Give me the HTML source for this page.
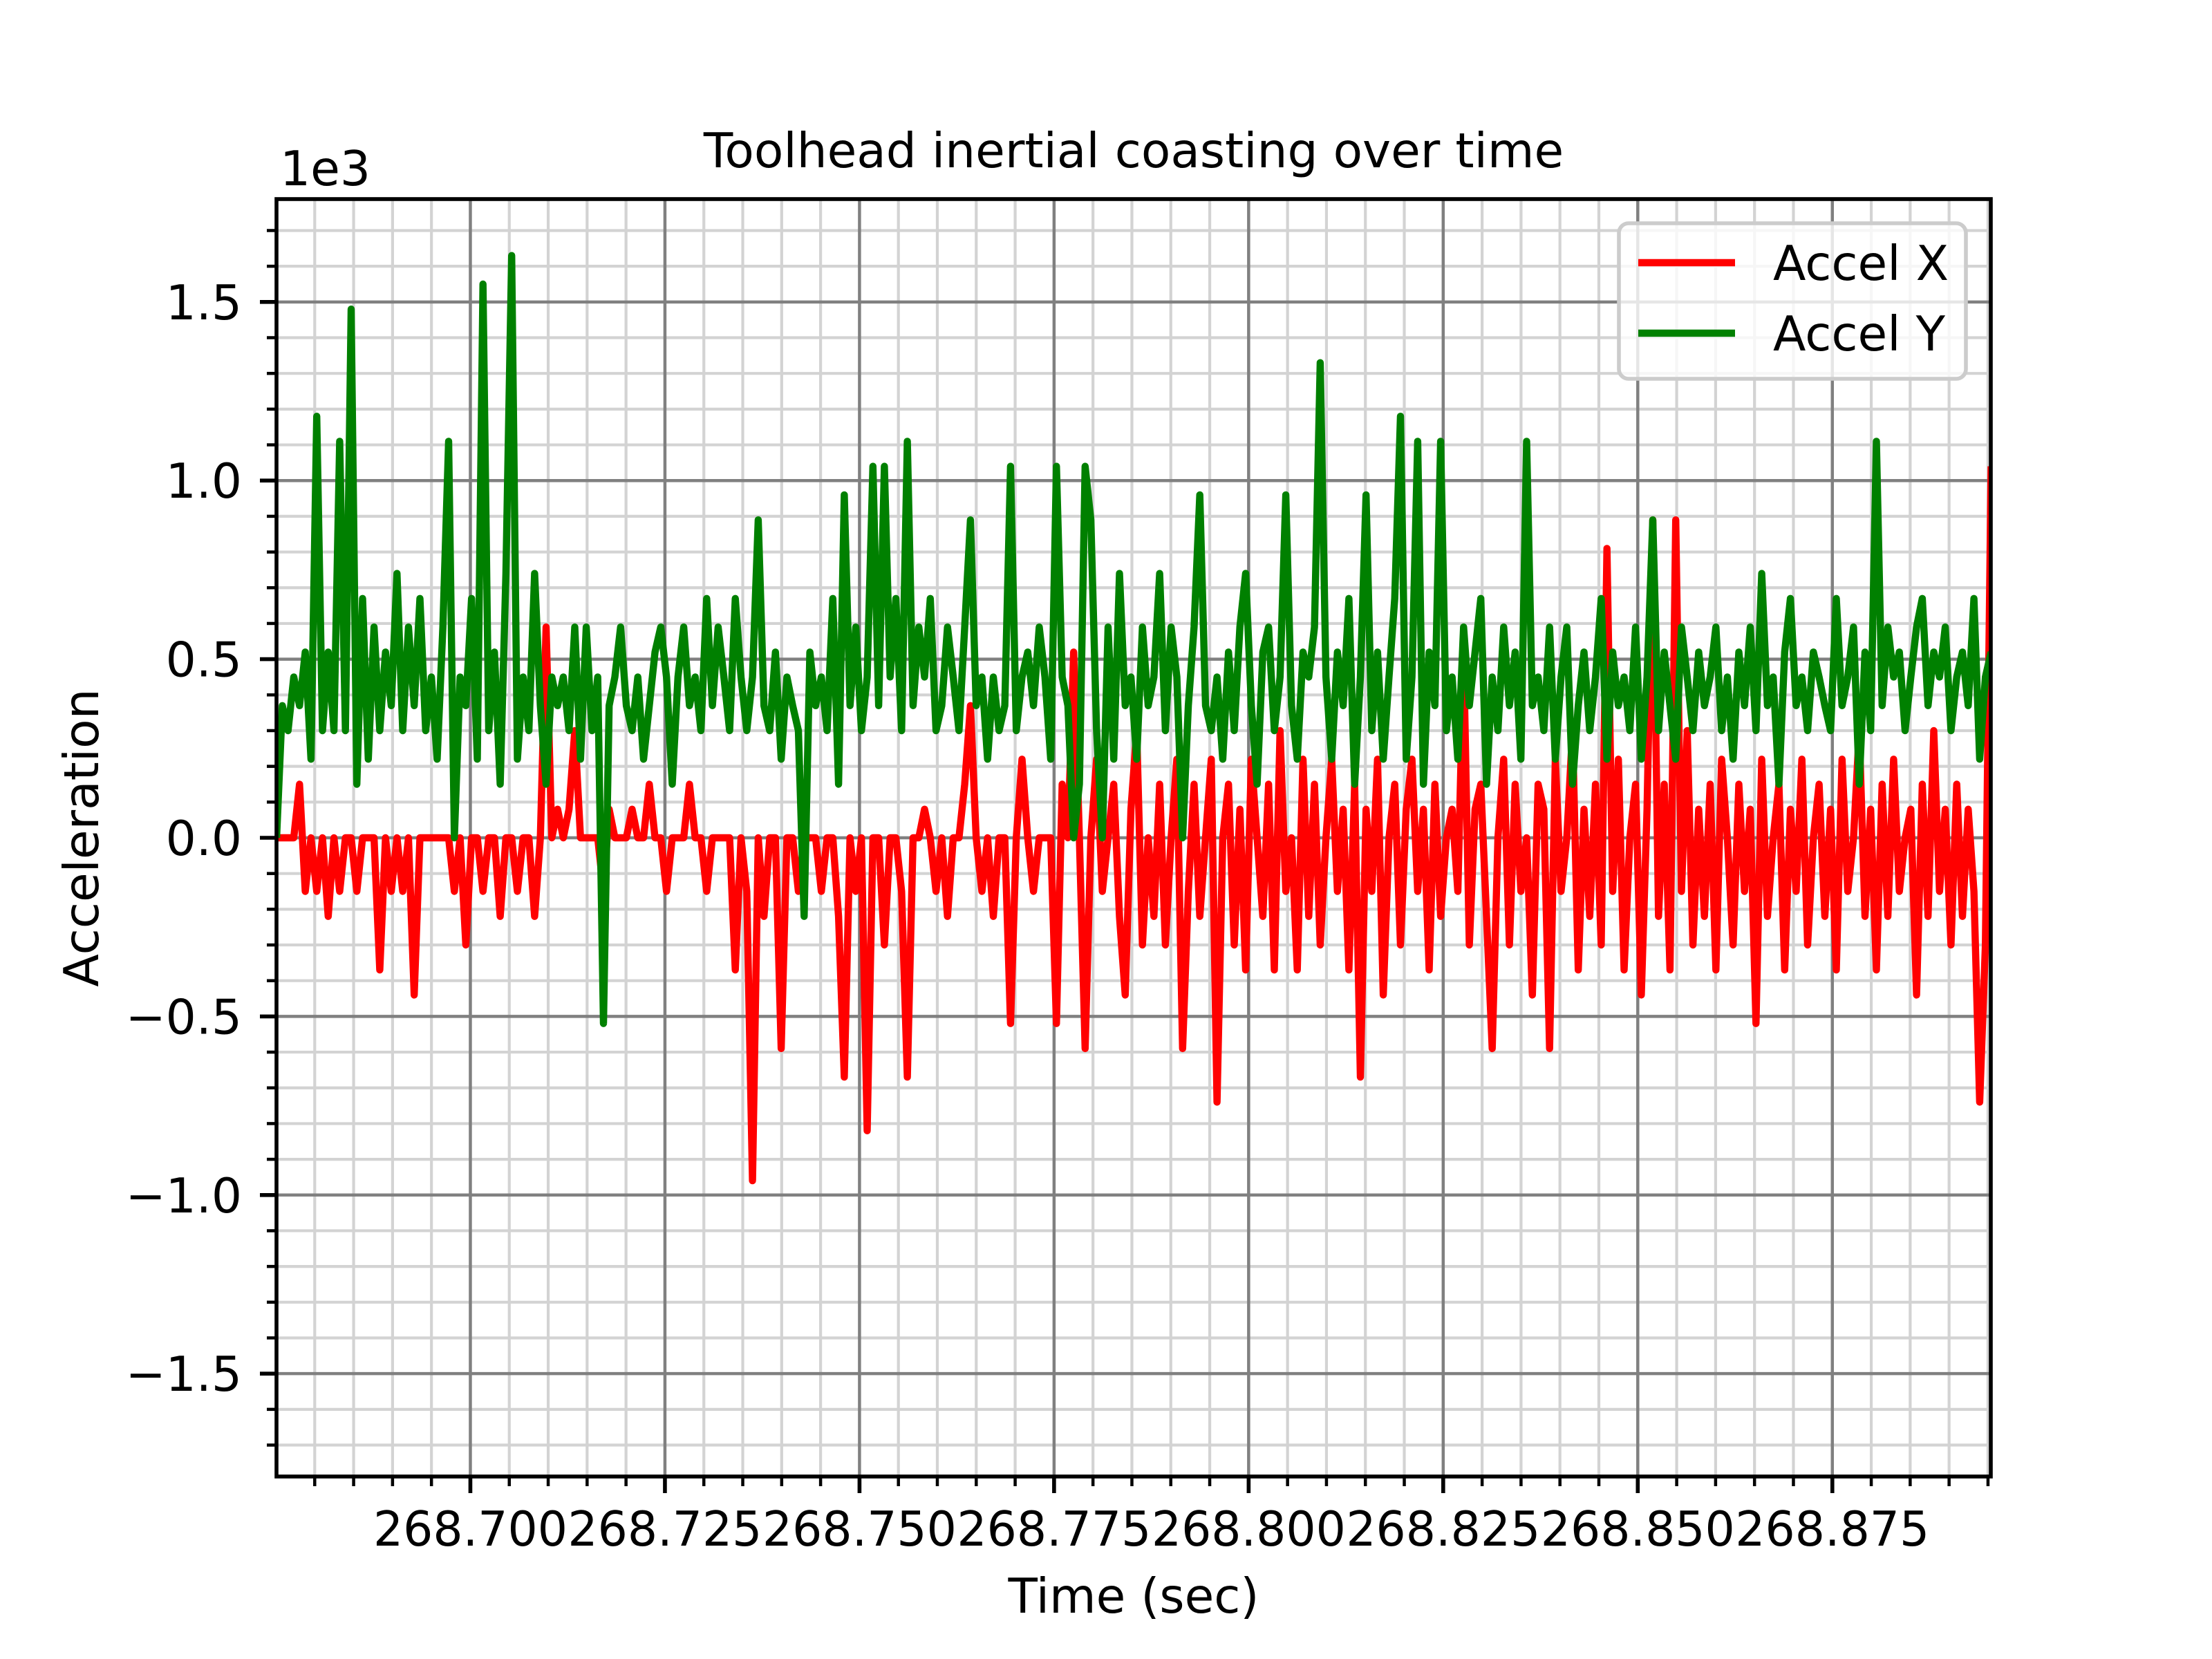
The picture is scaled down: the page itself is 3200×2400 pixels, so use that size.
<!DOCTYPE html>
<html><head><meta charset="utf-8"><style>
html,body{margin:0;padding:0;background:#fff;}
svg{display:block;}
text{font-family:"DejaVu Sans","Liberation Sans",sans-serif;fill:#000;}
</style></head><body>
<svg id="chart" width="3200" height="2400" viewBox="0 0 3200 2400" xmlns="http://www.w3.org/2000/svg">
<rect x="0" y="0" width="3200" height="2400" fill="#fff"/>
<defs><clipPath id="clip"><rect x="400" y="288" width="2480" height="1848"/></clipPath></defs>
<g id="grid"></g>
<g id="series" clip-path="url(#clip)"></g>
<rect x="400" y="288" width="2480" height="1848" fill="none" stroke="#000" stroke-width="5.6"/>
<g id="ticks"></g>
<text x="1640" y="242" font-size="69.4" text-anchor="middle">Toolhead inertial coasting over time</text>
<text x="405" y="268" font-size="69.4">1e3</text>
<text x="1640" y="2333" font-size="69.4" text-anchor="middle">Time (sec)</text>
<text x="142" y="1212" font-size="69.4" text-anchor="middle" transform="rotate(-90 142 1212)">Acceleration</text>
<g>
<rect x="2342" y="323" width="502" height="225" rx="14" fill="#fff" fill-opacity="0.8" stroke="#cccccc" stroke-width="5.6"/>
<line x1="2370" y1="380" x2="2510" y2="380" stroke="#ff0000" stroke-width="10.4"/>
<text x="2565" y="405" font-size="69.4">Accel X</text>
<line x1="2370" y1="482" x2="2510" y2="482" stroke="#008000" stroke-width="10.4"/>
<text x="2565" y="507" font-size="69.4">Accel Y</text>
</g>
</svg>
<script>
const tStart = 268.6751;
const tEnd = 268.8954;
const xTickLabels = ["268.700","268.725","268.750","268.775","268.800","268.825","268.850","268.875"];
const yTickLabels = ["\u22121.5","\u22121.0","\u22120.5","0.0","0.5","1.0","1.5"];
const accelX = [
0,0,0,0,0.15,-0.15,0,-0.15,0,-0.22,0,-0.15,0,0,-0.15,0,0,0,-0.37,0,
-0.15,0,-0.15,0,-0.44,0,0,0,0,0,0,-0.15,0,-0.30,0,0,-0.15,0,0,-0.22,
0,0,-0.15,0,0,-0.22,0,0.59,0,0.08,0,0.08,0.30,0,0,0,0,-0.15,0.08,0,
0,0,0.08,0,0,0.15,0,0,-0.15,0,0,0,0.15,0,0,-0.15,0,0,0,0,
-0.37,0,-0.15,-0.96,0,-0.22,0,0,-0.59,0,0,-0.15,0,0,0,-0.15,0,0,-0.22,-0.67,
0,-0.15,0,-0.82,0,0,-0.30,0,0,-0.15,-0.67,0,0,0.08,0,-0.15,0,-0.22,0,0,
0.15,0.37,0,-0.15,0,-0.22,0,0,-0.52,0,0.22,0,-0.15,0,0,0,-0.52,0.15,0,0.52,
0,-0.59,0,0.22,-0.15,0,0.15,-0.22,-0.44,0.08,0.30,-0.30,0,-0.22,0.15,-0.30,0,0.22,-0.59,-0.15,
0.15,-0.22,0,0.22,-0.74,0,0.15,-0.30,0.08,-0.37,0.22,0,-0.22,0.15,-0.37,0.30,-0.15,0,-0.37,0.22,
-0.22,0.15,-0.30,0,0.22,-0.15,0.08,-0.37,0.15,-0.67,0.08,-0.15,0.22,-0.44,0,0.15,-0.30,0.08,0.22,-0.15,
0.08,-0.37,0.15,-0.22,0,0.08,-0.15,0.52,-0.30,0.08,0.15,-0.22,-0.59,0,0.22,-0.30,0.15,-0.15,0,-0.44,
0.15,0.08,-0.59,0.22,-0.15,0,0.30,-0.37,0.08,-0.22,0.15,-0.30,0.81,-0.15,0.22,-0.37,0,0.15,-0.44,0.08,
0.89,-0.22,0.15,-0.37,0.89,-0.15,0.30,-0.30,0.08,-0.22,0.15,-0.37,0.22,0,-0.30,0.15,-0.15,0.08,-0.52,0.22,
-0.22,0,0.15,-0.37,0.08,-0.15,0.22,-0.30,0,0.15,-0.22,0.08,-0.37,0.22,-0.15,0,0.30,-0.22,0.08,-0.37,
0.15,-0.22,0.22,-0.15,0,0.08,-0.44,0.15,-0.22,0.30,-0.15,0.08,-0.30,0.15,-0.22,0.08,-0.15,-0.74,-0.30,1.04];
const accelY = [
0,0.37,0.30,0.45,0.37,0.52,0.22,1.18,0.30,0.52,0.30,1.11,0.30,1.48,0.15,0.67,0.22,0.59,0.30,0.52,
0.37,0.74,0.30,0.59,0.37,0.67,0.30,0.45,0.22,0.59,1.11,0.0,0.45,0.37,0.67,0.22,1.55,0.30,0.52,0.15,
0.74,1.63,0.22,0.45,0.30,0.74,0.37,0.15,0.45,0.37,0.45,0.30,0.59,0.22,0.59,0.30,0.45,-0.52,0.37,0.45,
0.59,0.37,0.30,0.45,0.22,0.37,0.52,0.59,0.45,0.15,0.45,0.59,0.37,0.45,0.30,0.67,0.37,0.59,0.45,0.30,
0.67,0.45,0.30,0.45,0.89,0.37,0.30,0.52,0.22,0.45,0.37,0.30,-0.22,0.52,0.37,0.45,0.30,0.67,0.15,0.96,
0.37,0.59,0.30,0.45,1.04,0.37,1.04,0.45,0.67,0.30,1.11,0.37,0.59,0.45,0.67,0.30,0.37,0.59,0.45,0.30,
0.59,0.89,0.37,0.45,0.22,0.45,0.30,0.37,1.04,0.30,0.45,0.52,0.37,0.59,0.45,0.22,1.04,0.45,0.37,0.0,
0.15,1.04,0.89,0.30,0.0,0.59,0.22,0.74,0.37,0.45,0.22,0.59,0.37,0.45,0.74,0.30,0.59,0.45,0.0,0.37,
0.59,0.96,0.37,0.30,0.45,0.22,0.52,0.30,0.59,0.74,0.37,0.15,0.52,0.59,0.30,0.45,0.96,0.37,0.22,0.52,
0.45,0.59,1.33,0.45,0.22,0.52,0.37,0.67,0.15,0.45,0.96,0.30,0.52,0.22,0.45,0.67,1.18,0.22,0.45,1.11,
0.15,0.52,0.37,1.11,0.30,0.45,0.22,0.59,0.37,0.52,0.67,0.15,0.45,0.30,0.59,0.37,0.52,0.22,1.11,0.37,
0.45,0.30,0.59,0.22,0.45,0.59,0.15,0.37,0.52,0.30,0.45,0.67,0.22,0.52,0.37,0.45,0.30,0.59,0.22,0.45,
0.89,0.30,0.52,0.37,0.22,0.59,0.45,0.30,0.52,0.37,0.45,0.59,0.30,0.45,0.22,0.52,0.37,0.59,0.30,0.74,
0.37,0.45,0.15,0.52,0.67,0.37,0.45,0.30,0.52,0.45,0.37,0.30,0.67,0.37,0.45,0.59,0.15,0.52,0.30,1.11,
0.37,0.59,0.45,0.52,0.30,0.45,0.59,0.67,0.37,0.52,0.45,0.59,0.30,0.45,0.52,0.37,0.67,0.22,0.45,0.52];

const NS = "http://www.w3.org/2000/svg";
const PL = 400, PR = 2880, PT = 288, PB = 2136;
const xMin = 268.67509, xMax = 268.89536, yMin = -1.788, yMax = 1.788;
function xs(t){ return PL + (t - xMin) / (xMax - xMin) * (PR - PL); }
function ys(v){ return PB - (v - yMin) / (yMax - yMin) * (PB - PT); }
function mk(tag, attrs, parent){
  const e = document.createElementNS(NS, tag);
  for (const k in attrs) e.setAttribute(k, attrs[k]);
  parent.appendChild(e);
  return e;
}
const grid = document.getElementById('grid');
const ticks = document.getElementById('ticks');
const series = document.getElementById('series');

for (let k = -20; k <= 20; k++) {
  const v = k * 0.1;
  if (v < yMin || v > yMax || k % 5 === 0) continue;
  const l = mk('line', {x1: PL, x2: PR, y1: ys(v), y2: ys(v), stroke: '#d3d3d3', 'stroke-width': 4.2}, grid);
  
  
  const tk = mk('line', {x1: PL - 14, x2: PL, y1: ys(v), y2: ys(v), stroke: '#000', 'stroke-width': 4.5}, ticks);
  
  
}
for (let k = 0; k <= 50; k++) {
  const t = 268.675 + k * 0.005;
  if (t < xMin || t > xMax || (k % 5) === 0) continue;
  const l = mk('line', {x1: xs(t), x2: xs(t), y1: PT, y2: PB, stroke: '#d3d3d3', 'stroke-width': 4.2}, grid);
  
  
  const tk = mk('line', {x1: xs(t), x2: xs(t), y1: PB, y2: PB + 14, stroke: '#000', 'stroke-width': 4.5}, ticks);
  
  
}
yTickLabels.forEach((lab, i) => {
  const v = -1.5 + i * 0.5;
  const l = mk('line', {x1: PL, x2: PR, y1: ys(v), y2: ys(v), stroke: '#808080', 'stroke-width': 4.5}, grid);
  
  
  const tk = mk('line', {x1: PL - 24, x2: PL, y1: ys(v), y2: ys(v), stroke: '#000', 'stroke-width': 5.6}, ticks);
  
  
  const tx = mk('text', {x: PL - 50, y: ys(v) + 25, 'font-size': 69.4, 'text-anchor': 'end'}, ticks);
  tx.textContent = lab;
  
  
});
xTickLabels.forEach((lab, i) => {
  const t = 268.700 + i * 0.025;
  const l = mk('line', {x1: xs(t), x2: xs(t), y1: PT, y2: PB, stroke: '#808080', 'stroke-width': 4.5}, grid);
  
  
  const tk = mk('line', {x1: xs(t), x2: xs(t), y1: PB, y2: PB + 24, stroke: '#000', 'stroke-width': 5.6}, ticks);
  
  
  const tx = mk('text', {x: xs(t), y: PB + 100, 'font-size': 69.4, 'text-anchor': 'middle', textLength: 281, lengthAdjust: 'spacingAndGlyphs'}, ticks);
  tx.textContent = lab;
  
  
});
function drawSeries(vals, color, name){
  const n = vals.length;
  const dt = (tEnd - tStart) / (n - 1);
  let d = '';
  vals.forEach((v, i) => {
    const t = tStart + i * dt;
    d += (i ? 'L' : 'M') + xs(t).toFixed(1) + ' ' + ys(v).toFixed(1);
  });
  const p = mk('path', {d: d, fill: 'none', stroke: color, 'stroke-width': 10.4, 'stroke-linejoin': 'round'}, series);
  
  
}
drawSeries(accelX, '#ff0000', 'accel-x-line');
drawSeries(accelY, '#008000', 'accel-y-line');
</script>
</body></html>
